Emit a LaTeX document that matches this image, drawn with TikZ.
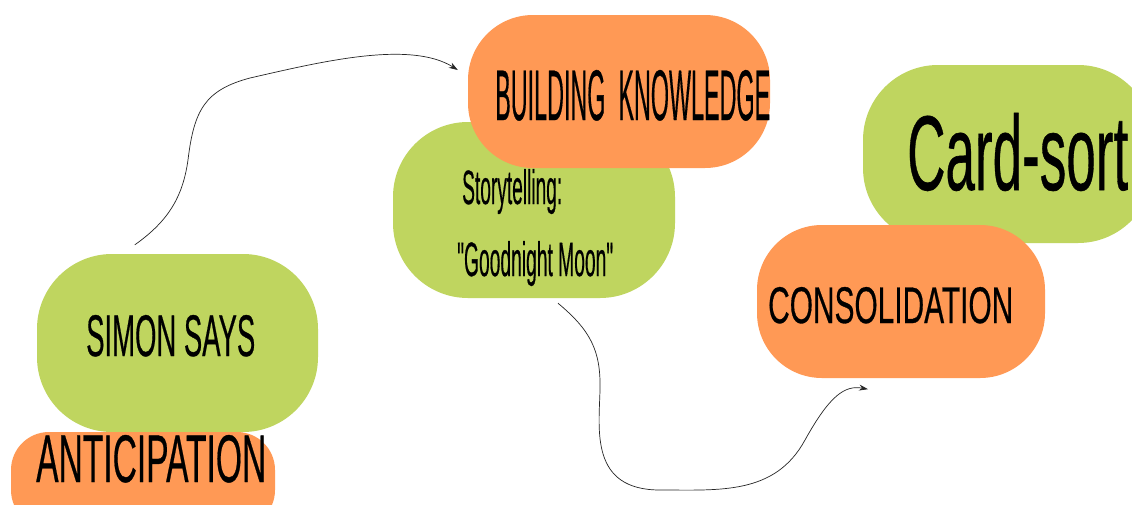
\documentclass[tikz,border=0pt]{standalone}
\usepackage{fontspec}
\setmainfont{Liberation Sans}[Ligatures=TeXOff]
\newfontfamily\lblfont{Liberation Sans}[Ligatures=TeXOff,FakeBold=0.6]
\usetikzlibrary{arrows.meta}
\definecolor{cgreen}{HTML}{BFD55F}
\definecolor{corange}{HTML}{FF9955}
\tikzset{
  pill/.style={rectangle, inner sep=0pt},
  gpill/.style={pill, fill=cgreen},
  opill/.style={pill, fill=corange},
  lbl/.style={inner sep=0pt, anchor=base west, text=black, font=\lblfont},
  conn/.style={line width=0.7pt, draw=black!85, -{Stealth[length=9pt,width=6pt,inset=3pt]}}
}
\begin{document}
\begin{tikzpicture}[x=1pt,y=-1pt]
\path[use as bounding box, clip] (0,0) rectangle (1132,504);
\fill[white] (0,0) rectangle (1132,504);
% boxes
\node[gpill, minimum width=281pt, minimum height=178pt, rounded corners=75pt] (simon) at (177.5,343) {};
\node[opill, minimum width=264pt, minimum height=96pt, rounded corners=38pt] (antic) at (143,480) {};
\node[gpill, minimum width=282pt, minimum height=176pt, rounded corners=75pt] (story) at (534,210) {};
\node[opill, minimum width=302pt, minimum height=153pt, rounded corners=65pt] (build) at (619,91.5) {};
\node[gpill, minimum width=290pt, minimum height=178pt, rounded corners=75pt] (card) at (1008,154) {};
\node[opill, minimum width=288pt, minimum height=153pt, rounded corners=65pt] (consol) at (901,301.5) {};
% labels
\node[lbl] (simont) at (86,356) {\resizebox{169pt}{41pt}{SIMON SAYS}};
\node[lbl] (antict) at (36,482) {\resizebox{230pt}{47pt}{ANTICIPATION}};
\node[lbl] (buildt) at (495,120) {\resizebox{275pt}{50pt}{BUILDING\ \ KNOWLEDGE}};
\node[lbl] (storyt1) at (462,204) {\resizebox{100pt}{35pt}{Storytelling:}};
\node[lbl] (storyt2) at (457,276) {\resizebox{156pt}{35pt}{"Goodnight Moon"}};
\node[lbl] (cardt) at (907,190) {\resizebox{221pt}{77pt}{Card-sort}};
\node[lbl] (consolt) at (768,323) {\resizebox{245pt}{36pt}{CONSOLIDATION}};
% connectors
\coordinate (a1s) at ([shift={(98pt,9pt)}]simon.north west);
\coordinate (a1e) at ([shift={(-10pt,21.5pt)}]build.west);
\draw[conn] (a1s) .. controls (170,220) and (183,195) .. (188,160)
  .. controls (194,110) and (205,90) .. (250,78)
  .. controls (320,62) and (410,40) .. (a1e);
\coordinate (a2s) at ([shift={(24pt,-5pt)}]story.south);
\coordinate (a2e) at ([shift={(-33pt,-11pt)}]consol.south);
\draw[conn] (a2s) .. controls (590,330) and (601,350) .. (600,390)
  .. controls (599,430) and (590,490) .. (660,490)
  .. controls (720,490) and (775,495) .. (805,440)
  .. controls (830,395) and (845,385) .. (a2e);
\end{tikzpicture}
\end{document}
